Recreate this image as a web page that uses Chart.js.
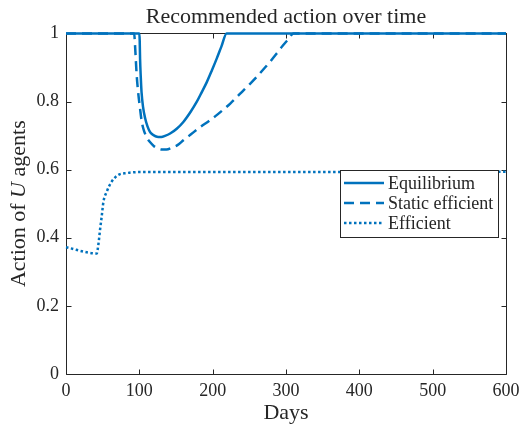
<!DOCTYPE html>
<html>
<head>
<meta charset="utf-8">
<script src="https://cdn.jsdelivr.net/npm/chart.js@4.4.1/dist/chart.umd.min.js"></script>
<style>
    html, body { margin: 0; padding: 0; background: #fff; }
    #wrap { width: 527px; height: 426px; }
</style>
</head>
<body>
<div id="wrap"><canvas id="chart" width="527" height="426"></canvas></div>
<script>
const LINE_COLOR = '#0072BD'
const AXIS_COLOR = '#262626'
const FONT = '"Liberation Serif", "Times New Roman", serif'

const xTicks = [0, 100, 200, 300, 400, 500, 600]
const yTicks = [0, 0.2, 0.4, 0.6, 0.8, 1]

const equilibriumDays = [0, 100, 100.5, 101, 102, 103, 105, 108, 111, 114.5, 118, 122, 126, 130, 135, 142, 151, 160, 170, 178, 185, 192, 199, 205.5, 212, 219, 600]
const equilibriumValues = [1, 1, 0.98, 0.926, 0.87, 0.828, 0.785, 0.75, 0.728, 0.711, 0.703, 0.698, 0.696, 0.696, 0.699, 0.706, 0.72, 0.74, 0.77, 0.798, 0.827, 0.857, 0.892, 0.926, 0.962, 1, 1]

const staticDays = [0, 93, 94, 96.4, 98.5, 101, 103, 105.5, 110, 114.5, 120, 126, 131, 137, 145, 152, 160, 170, 183, 195, 205.5, 215, 224, 233, 242, 251, 260, 269, 278, 287, 296, 304, 310, 600]
const staticValues = [1, 1, 0.97, 0.877, 0.825, 0.779, 0.745, 0.72, 0.695, 0.681, 0.669, 0.662, 0.659, 0.659, 0.665, 0.672, 0.686, 0.703, 0.725, 0.743, 0.76, 0.777, 0.794, 0.813, 0.833, 0.852, 0.872, 0.894, 0.916, 0.94, 0.965, 0.985, 1, 1]

const efficientDays = [0, 42, 43.5, 45, 46.5, 48.6, 51, 55.5, 62, 71, 83, 101, 200, 600]
const efficientValues = [0.372, 0.354, 0.37, 0.395, 0.425, 0.461, 0.505, 0.535, 0.564, 0.584, 0.59, 0.593, 0.593, 0.594]

const seriesLabels = ['Equilibrium', 'Static efficient', 'Efficient']

function toPoints(days, values) {
    return days.map((d, i) => ({ x: d, y: values[i] }))
}

function makeDataset(label, days, values, dash) {
    return {
        label,
        data: toPoints(days, values),
        borderColor: LINE_COLOR,
        backgroundColor: LINE_COLOR,
        borderWidth: 2.5,
        borderDash: dash,
        pointRadius: 0,
        cubicInterpolationMode: 'monotone',
        clip: false
    }
}

// frame, inward ticks, y title with italic U, boxed legend
const matlabLook = {
    id: 'matlabLook',
    beforeDatasetsDraw(chart) {
        const { ctx, chartArea: a, scales } = chart
        const l = Math.round(a.left) + 0.5, r = Math.round(a.right) + 0.5
        const t = Math.round(a.top) + 0.5, b = Math.round(a.bottom) + 0.5
        ctx.save()
        ctx.strokeStyle = AXIS_COLOR
        ctx.lineWidth = 1
        ctx.beginPath()
        ctx.rect(l, t, r - l, b - t)
        xTicks.forEach(v => {
            const px = Math.round(scales.x.getPixelForValue(v)) + 0.5
            ctx.moveTo(px, b); ctx.lineTo(px, b - 5)
            ctx.moveTo(px, t); ctx.lineTo(px, t + 5)
        })
        yTicks.forEach(v => {
            const py = Math.round(scales.y.getPixelForValue(v)) + 0.5
            ctx.moveTo(l, py); ctx.lineTo(l + 5, py)
            ctx.moveTo(r, py); ctx.lineTo(r - 5, py)
        })
        ctx.stroke()
        ctx.restore()
    },
    afterDraw(chart) {
        const { ctx, chartArea: a } = chart
        ctx.save()

        // y axis title
        const parts = [
            { text: 'Action of ', font: '22px ' + FONT },
            { text: 'U', font: 'italic 22px ' + FONT },
            { text: ' agents', font: '22px ' + FONT }
        ]
        let total = 0
        parts.forEach(p => { ctx.font = p.font; p.w = ctx.measureText(p.text).width; total += p.w })
        ctx.translate(25, (a.top + a.bottom) / 2)
        ctx.rotate(-Math.PI / 2)
        ctx.fillStyle = AXIS_COLOR
        ctx.textBaseline = 'alphabetic'
        let x = -total / 2
        parts.forEach(p => { ctx.font = p.font; ctx.fillText(p.text, x, 0); x += p.w })
        ctx.setTransform(1, 0, 0, 1, 0, 0)

        // legend
        const box = { x: 340.5, y: 170.5, w: 158, h: 67 }
        ctx.fillStyle = '#fff'
        ctx.fillRect(box.x, box.y, box.w, box.h)
        ctx.strokeStyle = AXIS_COLOR
        ctx.lineWidth = 1
        ctx.strokeRect(box.x, box.y, box.w, box.h)
        ctx.font = '18px ' + FONT
        ctx.textBaseline = 'middle'
        chart.data.datasets.forEach((ds, i) => {
            const yy = 183 + i * 20
            ctx.strokeStyle = ds.borderColor
            ctx.lineWidth = ds.borderWidth
            ctx.setLineDash(ds.borderDash || [])
            ctx.beginPath()
            ctx.moveTo(344, yy)
            ctx.lineTo(384, yy)
            ctx.stroke()
            ctx.setLineDash([])
            ctx.fillStyle = AXIS_COLOR
            ctx.fillText(ds.label, 388, yy + 1)
        })
        ctx.restore()
    }
}

new Chart(document.getElementById('chart'), {
    type: 'line',
    data: {
        datasets: [
            makeDataset(seriesLabels[0], equilibriumDays, equilibriumValues, []),
            makeDataset(seriesLabels[1], staticDays, staticValues, [10, 6]),
            makeDataset(seriesLabels[2], efficientDays, efficientValues, [2.5, 2.5])
        ]
    },
    options: {
        responsive: false,
        animation: false,
        devicePixelRatio: 1,
        layout: { padding: { left: 0, right: 21, top: 0, bottom: 0 } },
        plugins: {
            legend: { display: false },
            tooltip: { enabled: false },
            title: {
                display: true,
                fullSize: false,
                text: 'Recommended action over time',
                color: AXIS_COLOR,
                font: { family: FONT, size: 22, weight: 'normal' },
                padding: { top: 4, bottom: 3 }
            }
        },
        scales: {
            x: {
                type: 'linear',
                min: 0,
                max: 600,
                afterBuildTicks: s => { s.ticks = xTicks.map(v => ({ value: v })) },
                afterFit: s => { s.height = 52 },
                grid: { display: false, drawTicks: false },
                border: { display: false },
                ticks: { color: AXIS_COLOR, font: { family: FONT, size: 18 }, padding: 6, maxRotation: 0 },
                title: {
                    display: true,
                    text: 'Days',
                    color: AXIS_COLOR,
                    font: { family: FONT, size: 22 },
                    padding: 0
                }
            },
            y: {
                min: 0,
                max: 1,
                afterBuildTicks: s => { s.ticks = yTicks.map(v => ({ value: v })) },
                afterFit: s => { s.width = 66 },
                grid: { display: false, drawTicks: false },
                border: { display: false },
                ticks: {
                    color: AXIS_COLOR,
                    font: { family: FONT, size: 18 },
                    padding: 7,
                    callback: v => String(v)
                }
            }
        }
    },
    plugins: [matlabLook]
})
</script>
</body>
</html>
